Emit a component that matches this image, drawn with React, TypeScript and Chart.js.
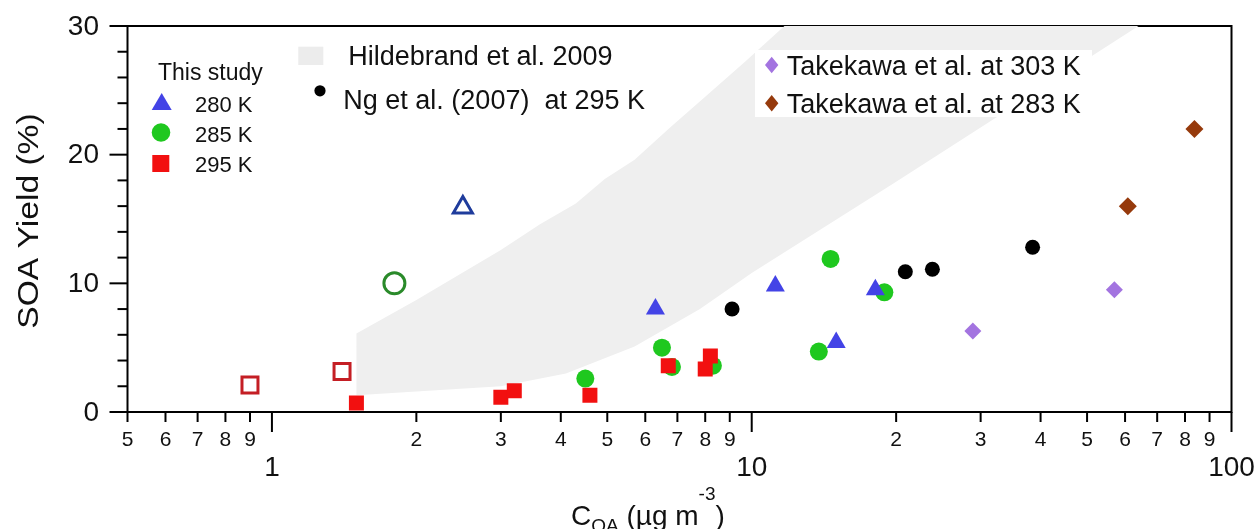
import { useEffect, useRef } from 'react';
import { Chart, registerables } from 'chart.js';

Chart.register(...registerables);

const FONT = '"Liberation Sans", Arial, Helvetica, sans-serif';

// ---- data (x = C_OA in µg m^-3, y = SOA yield %) ----
const T280_X = [6.3, 11.2, 15.0, 18.1];
const T280_Y = [8.0, 9.8, 5.4, 9.5];
const T280_OPEN_X = [2.5];
const T280_OPEN_Y = [15.9];
const T285_X = [4.5, 6.5, 6.82, 8.3, 13.8, 14.6, 18.9];
const T285_Y = [2.6, 5.0, 3.5, 3.6, 4.7, 11.9, 9.3];
const T285_OPEN_X = [1.8];
const T285_OPEN_Y = [10.0];
const T295_X = [1.5, 3.0, 3.2, 4.6, 6.7, 8.0, 8.2];
const T295_Y = [0.7, 1.15, 1.65, 1.3, 3.6, 3.35, 4.35];
const T295_OPEN_X = [0.9, 1.4];
const T295_OPEN_Y = [2.1, 3.15];
const NG_X = [9.1, 20.9, 23.8, 38.5];
const NG_Y = [8.0, 10.9, 11.1, 12.8];
const TK303_X = [28.9, 57.0];
const TK303_Y = [6.3, 9.5];
const TK283_X = [60.8, 83.7];
const TK283_Y = [16.0, 22.0];

// Hildebrand et al. 2009 range (band)
const BAND_LOWER_X = [1.5, 2.2, 3.0, 4.1, 5.7, 7.8, 10, 20, 40, 64, 90];
const BAND_LOWER_Y = [1.3, 1.7, 2.0, 3.0, 5.1, 8.0, 10.8, 17.9, 25.1, 30, 33];
const BAND_UPPER_X = [1.5, 2.0, 3.0, 3.62, 4.3, 4.94, 5.7, 6.75, 8.0, 9.67, 11.7, 14.5];
const BAND_UPPER_Y = [6.1, 8.7, 12.6, 14.6, 16.2, 18.1, 19.6, 22.1, 24.5, 27.2, 30, 33];

// ---- axes ----
const X_MIN = 0.5;
const X_MAX = 100;
const Y_MIN = 0;
const Y_MAX = 30;
const X_MINOR_TICKS = [0.5, 0.6, 0.7, 0.8, 0.9, 2, 3, 4, 5, 6, 7, 8, 9, 20, 30, 40, 50, 60, 70, 80, 90];
const X_MINOR_LABELS = ['5', '6', '7', '8', '9', '2', '3', '4', '5', '6', '7', '8', '9', '2', '3', '4', '5', '6', '7', '8', '9'];
const X_MAJOR_TICKS = [1, 10, 100];
const X_MAJOR_LABELS = ['1', '10', '100'];
const Y_MAJOR_TICKS = [0, 10, 20, 30];
const Y_MAJOR_LABELS = ['0', '10', '20', '30'];
const Y_MINOR_TICKS = [2, 4, 6, 8, 12, 14, 16, 18, 22, 24, 26, 28];

const Y_TITLE = 'SOA Yield (%)';
const X_TITLE_MAIN = 'C';
const X_TITLE_SUB = 'OA';
const X_TITLE_MID = ' (\u00b5g m';
const X_TITLE_SUP = '-3';
const X_TITLE_END = ')';

const LEG_THIS_STUDY = 'This study';
const LEG_280 = '280 K';
const LEG_285 = '285 K';
const LEG_295 = '295 K';
const LEG_HILDEBRAND = 'Hildebrand et al. 2009';
const LEG_NG = 'Ng et al. (2007)  at 295 K';
const LEG_TK303 = 'Takekawa et al. at 303 K';
const LEG_TK283 = 'Takekawa et al. at 283 K';

const C_BLUE = '#4343e6';
const C_BLUE_OPEN = '#1f3c9c';
const C_GREEN = '#1fc81f';
const C_GREEN_OPEN = '#2a8a2a';
const C_RED = '#f21010';
const C_RED_OPEN = '#c41e24';
const C_BLACK = '#000000';
const C_PURPLE = '#a374e0';
const C_BROWN = '#963a0c';
const C_BAND = '#efefef';

const pts = (xs: number[], ys: number[]) => xs.map((x, i) => ({ x, y: ys[i] }));

const decorPlugin = {
  id: 'decor',
  beforeDatasetsDraw(chart: any) {
    const { ctx, chartArea: a } = chart;
    ctx.save();
    ctx.strokeStyle = '#000';
    ctx.lineWidth = 2;
    ctx.strokeRect(a.left, a.top, a.right - a.left, a.bottom - a.top);
    ctx.restore();
  },
  afterDraw(chart: any) {
    const { ctx, chartArea: a } = chart;
    const xs = chart.scales.x;
    const ys = chart.scales.y;
    ctx.save();
    ctx.strokeStyle = '#000';
    ctx.fillStyle = '#111';
    ctx.lineWidth = 2;

    // x ticks
    ctx.textAlign = 'center';
    ctx.textBaseline = 'alphabetic';
    ctx.font = `21px ${FONT}`;
    X_MINOR_TICKS.forEach((v, i) => {
      const px = xs.getPixelForValue(v);
      ctx.beginPath();
      ctx.moveTo(px, a.bottom);
      ctx.lineTo(px, a.bottom + 10);
      ctx.stroke();
      ctx.fillText(X_MINOR_LABELS[i], px, 446);
    });
    ctx.font = `28px ${FONT}`;
    X_MAJOR_TICKS.forEach((v, i) => {
      const px = xs.getPixelForValue(v);
      ctx.beginPath();
      ctx.moveTo(px, a.bottom);
      ctx.lineTo(px, a.bottom + 20);
      ctx.stroke();
      ctx.fillText(X_MAJOR_LABELS[i], px, 476);
    });

    // y ticks
    ctx.textAlign = 'right';
    ctx.textBaseline = 'middle';
    Y_MINOR_TICKS.forEach((v) => {
      const py = ys.getPixelForValue(v);
      ctx.beginPath();
      ctx.moveTo(a.left - 10, py);
      ctx.lineTo(a.left, py);
      ctx.stroke();
    });
    Y_MAJOR_TICKS.forEach((v, i) => {
      const py = ys.getPixelForValue(v);
      ctx.beginPath();
      ctx.moveTo(a.left - 18, py);
      ctx.lineTo(a.left, py);
      ctx.stroke();
      ctx.fillText(Y_MAJOR_LABELS[i], 99, py + 1);
    });

    // y title
    ctx.save();
    ctx.translate(38, (a.top + a.bottom) / 2 + 2);
    ctx.rotate(-Math.PI / 2);
    ctx.scale(1.12, 1);
    ctx.textAlign = 'center';
    ctx.textBaseline = 'alphabetic';
    ctx.font = `30px ${FONT}`;
    ctx.fillText(Y_TITLE, 0, 0);
    ctx.restore();

    // x title
    ctx.textAlign = 'left';
    ctx.textBaseline = 'alphabetic';
    let tx = 571;
    const base = 525;
    ctx.font = `28px ${FONT}`;
    ctx.fillText(X_TITLE_MAIN, tx, base);
    tx += ctx.measureText(X_TITLE_MAIN).width;
    ctx.font = `19px ${FONT}`;
    ctx.fillText(X_TITLE_SUB, tx, base + 7);
    tx += ctx.measureText(X_TITLE_SUB).width;
    ctx.font = `28px ${FONT}`;
    ctx.fillText(X_TITLE_MID, tx, base);
    tx += ctx.measureText(X_TITLE_MID).width;
    ctx.font = `19px ${FONT}`;
    ctx.fillText(X_TITLE_SUP, tx, base - 25);
    tx += ctx.measureText(X_TITLE_SUP).width;
    ctx.font = `28px ${FONT}`;
    ctx.fillText(X_TITLE_END, tx, base);

    // legend: this study
    ctx.font = `23px ${FONT}`;
    ctx.fillText(LEG_THIS_STUDY, 158, 80);
    ctx.font = `22px ${FONT}`;
    ctx.fillText(LEG_280, 195, 111.7);
    ctx.fillText(LEG_285, 195, 141.7);
    ctx.fillText(LEG_295, 195, 171.7);
    ctx.fillStyle = C_BLUE;
    ctx.beginPath();
    ctx.moveTo(151.7, 110);
    ctx.lineTo(171.7, 110);
    ctx.lineTo(161.7, 93);
    ctx.closePath();
    ctx.fill();
    ctx.fillStyle = C_GREEN;
    ctx.beginPath();
    ctx.arc(161, 132.5, 9.3, 0, Math.PI * 2);
    ctx.fill();
    ctx.fillStyle = C_RED;
    ctx.fillRect(152.3, 155, 17, 17);

    // Hildebrand / Ng
    ctx.fillStyle = '#ececec';
    ctx.fillRect(298.3, 46.7, 25, 18.3);
    ctx.fillStyle = '#000';
    ctx.beginPath();
    ctx.arc(320, 90.8, 5.6, 0, Math.PI * 2);
    ctx.fill();
    ctx.fillStyle = '#111';
    ctx.font = `27px ${FONT}`;
    ctx.fillText(LEG_HILDEBRAND, 348.3, 65);
    ctx.fillText(LEG_NG, 343.3, 109);

    // Takekawa box
    ctx.fillStyle = '#ffffff';
    ctx.fillRect(755, 50, 337, 67);
    const diamond = (cx: number, cy: number, hw: number, hh: number, col: string) => {
      ctx.fillStyle = col;
      ctx.beginPath();
      ctx.moveTo(cx - hw, cy);
      ctx.lineTo(cx, cy - hh);
      ctx.lineTo(cx + hw, cy);
      ctx.lineTo(cx, cy + hh);
      ctx.closePath();
      ctx.fill();
    };
    diamond(771.7, 65, 6.7, 8.3, C_PURPLE);
    diamond(771.7, 103.3, 6.7, 8.3, C_BROWN);
    ctx.fillStyle = '#111';
    ctx.fillText(LEG_TK303, 786.7, 75);
    ctx.fillText(LEG_TK283, 786.7, 112.7);

    ctx.restore();
  },
};

export default function App() {
  const ref = useRef<HTMLCanvasElement | null>(null);

  useEffect(() => {
    if (!ref.current) return;
    const band = [
      ...pts(BAND_LOWER_X, BAND_LOWER_Y),
      ...pts(BAND_UPPER_X, BAND_UPPER_Y).reverse(),
    ];
    const chart = new Chart(ref.current, {
      type: 'scatter',
      data: {
        datasets: [
          {
            label: 'Hildebrand et al. 2009',
            data: band,
            showLine: true,
            fill: 'shape',
            backgroundColor: C_BAND,
            borderColor: C_BAND,
            borderWidth: 0,
            pointRadius: 0,
            tension: 0,
            order: 20,
          } as any,
          {
            label: '285 K',
            data: pts(T285_X, T285_Y),
            pointStyle: 'circle',
            pointRadius: 9,
            backgroundColor: C_GREEN,
            borderColor: C_GREEN,
            borderWidth: 0,
            order: 6,
          },
          {
            label: '285 K open',
            data: pts(T285_OPEN_X, T285_OPEN_Y),
            pointStyle: 'circle',
            pointRadius: 10.5,
            backgroundColor: 'rgba(0,0,0,0)',
            borderColor: C_GREEN_OPEN,
            borderWidth: 3,
            order: 6,
          },
          {
            label: '295 K',
            data: pts(T295_X, T295_Y),
            pointStyle: 'rect',
            pointRadius: 10.6,
            backgroundColor: C_RED,
            borderColor: C_RED,
            borderWidth: 0,
            order: 5,
          },
          {
            label: '295 K open',
            data: pts(T295_OPEN_X, T295_OPEN_Y),
            pointStyle: 'rect',
            pointRadius: 11.3,
            backgroundColor: 'rgba(0,0,0,0)',
            borderColor: C_RED_OPEN,
            borderWidth: 3,
            order: 5,
          },
          {
            label: '280 K',
            data: pts(T280_X, T280_Y),
            pointStyle: 'triangle',
            pointRadius: 11,
            backgroundColor: C_BLUE,
            borderColor: C_BLUE,
            borderWidth: 0,
            order: 4,
          },
          {
            label: '280 K open',
            data: pts(T280_OPEN_X, T280_OPEN_Y),
            pointStyle: 'triangle',
            pointRadius: 11,
            backgroundColor: 'rgba(0,0,0,0)',
            borderColor: C_BLUE_OPEN,
            borderWidth: 3,
            order: 4,
          },
          {
            label: 'Ng et al. (2007) at 295 K',
            data: pts(NG_X, NG_Y),
            pointStyle: 'circle',
            pointRadius: 7.5,
            backgroundColor: C_BLACK,
            borderColor: C_BLACK,
            borderWidth: 0,
            order: 3,
          },
          {
            label: 'Takekawa et al. at 303 K',
            data: pts(TK303_X, TK303_Y),
            pointStyle: 'rectRot',
            pointRadius: 8.5,
            backgroundColor: C_PURPLE,
            borderColor: C_PURPLE,
            borderWidth: 0,
            order: 2,
          },
          {
            label: 'Takekawa et al. at 283 K',
            data: pts(TK283_X, TK283_Y),
            pointStyle: 'rectRot',
            pointRadius: 9,
            backgroundColor: C_BROWN,
            borderColor: C_BROWN,
            borderWidth: 0,
            order: 2,
          },
        ],
      },
      options: {
        responsive: false,
        animation: false,
        events: [],
        layout: { padding: { left: 0, top: 26, right: 25.5, bottom: 0 } },
        plugins: {
          legend: { display: false },
          tooltip: { enabled: false },
        },
        scales: {
          x: {
            type: 'logarithmic',
            min: X_MIN,
            max: X_MAX,
            grid: { display: false },
            border: { display: false },
            ticks: { display: false },
            afterFit: (s: any) => {
              s.height = 117;
            },
          },
          y: {
            type: 'linear',
            min: Y_MIN,
            max: Y_MAX,
            grid: { display: false },
            border: { display: false },
            ticks: { display: false },
            afterFit: (s: any) => {
              s.width = 127.5;
            },
          },
        },
      },
      plugins: [decorPlugin],
    } as any);
    return () => chart.destroy();
  }, []);

  return (
    <div style={{ position: 'fixed', left: 0, top: 0, width: 1257, height: 529, background: '#fff' }}>
      <canvas ref={ref} width={1257} height={529} style={{ display: 'block', width: 1257, height: 529 }} />
    </div>
  );
}
